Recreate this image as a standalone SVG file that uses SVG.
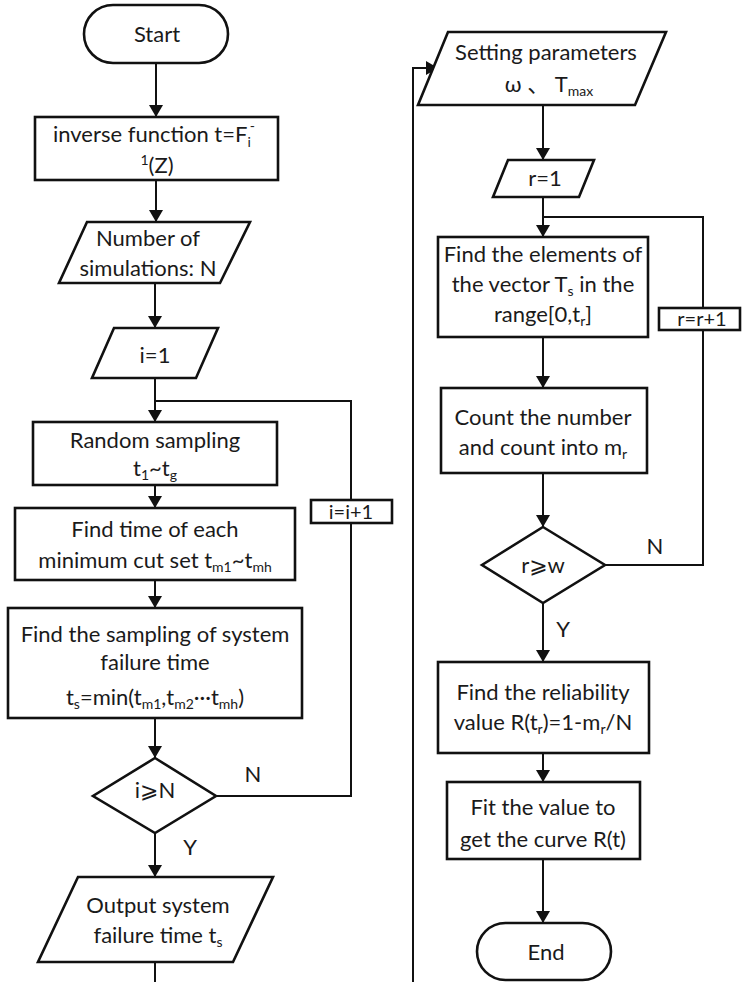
<svg xmlns="http://www.w3.org/2000/svg" width="743" height="982" viewBox="0 0 743 982">
<style>
.s{fill:#fff;stroke:#111;stroke-width:2.6}
.c{fill:none;stroke:#111;stroke-width:2}
text{font-family:Lato,"Open Sans","Noto Sans","DejaVu Sans","Noto Sans CJK SC",sans-serif;font-size:22px;fill:#1a1a1a;text-anchor:middle}
.sm{font-size:20px}
.sub{font-size:14px}
</style>
<defs>
<marker id="a" viewBox="0 0 12 14" refX="12" refY="7" markerWidth="12" markerHeight="14" markerUnits="userSpaceOnUse" orient="auto">
<path d="M0,0 L12,7 L0,14 Z" fill="#111"/>
</marker>
</defs>
<rect width="743" height="982" fill="#fff"/>
<g id="connectors">
<line class="c" x1="156" y1="63" x2="156" y2="117" marker-end="url(#a)"/>
<line class="c" x1="156" y1="180" x2="156" y2="222" marker-end="url(#a)"/>
<line class="c" x1="155" y1="283" x2="155" y2="328" marker-end="url(#a)"/>
<line class="c" x1="155" y1="378" x2="155" y2="422" marker-end="url(#a)"/>
<polyline class="c" points="216,796 351,796 351,401 155,401"/>
<line class="c" x1="155" y1="485" x2="155" y2="508" marker-end="url(#a)"/>
<line class="c" x1="155" y1="580" x2="155" y2="608" marker-end="url(#a)"/>
<line class="c" x1="155" y1="718" x2="155" y2="758" marker-end="url(#a)"/>
<line class="c" x1="155" y1="833" x2="155" y2="877" marker-end="url(#a)"/>
<line class="c" x1="155" y1="962" x2="155" y2="982"/>
<polyline class="c" points="413,982 413,68 438,68" marker-end="url(#a)"/>
<line class="c" x1="543" y1="105" x2="543" y2="160" marker-end="url(#a)"/>
<line class="c" x1="543" y1="197" x2="543" y2="237" marker-end="url(#a)"/>
<polyline class="c" points="605,565 703,565 703,217 543,217"/>
<line class="c" x1="543" y1="337" x2="543" y2="388" marker-end="url(#a)"/>
<line class="c" x1="543" y1="473" x2="543" y2="527" marker-end="url(#a)"/>
<line class="c" x1="543" y1="603" x2="543" y2="662" marker-end="url(#a)"/>
<line class="c" x1="543" y1="753" x2="543" y2="782" marker-end="url(#a)"/>
<line class="c" x1="543" y1="859" x2="543" y2="923" marker-end="url(#a)"/>
<text x="253" y="782">N</text>
<text x="190" y="855">Y</text>
<text x="655" y="554">N</text>
<text x="563" y="637">Y</text>
</g>
<g id="start"><rect class="s" x="84" y="5" width="144" height="58" rx="29"/><text x="157" y="42">Start</text></g>
<g id="inverse"><rect class="s" x="35" y="117" width="243" height="63"/>
<text x="154" y="142">inverse function t=F<tspan class="sub" dy="5">i</tspan><tspan class="sub" dx="-1" dy="-16">-</tspan></text>
<text x="157" y="173"><tspan class="sub" dy="-8">1</tspan><tspan dy="8">(Z)</tspan></text></g>
<g id="num"><polygon class="s" points="87,222 250,222 220,283 59,283"/>
<text x="148" y="246">Number of</text><text x="148" y="276">simulations: N</text></g>
<g id="i1"><polygon class="s" points="114,328 218,328 196,378 92,378"/><text x="155" y="363">i=1</text></g>
<g id="random"><rect class="s" x="33" y="422" width="244" height="63"/>
<text x="155" y="448">Random sampling</text>
<text x="155" y="476">t<tspan class="sub" dy="4">1</tspan><tspan dy="-4">~t</tspan><tspan class="sub" dy="4">g</tspan></text></g>
<g id="findtime"><rect class="s" x="15" y="508" width="280" height="72"/>
<text x="155" y="537">Find time of each</text>
<text x="155" y="568">minimum cut set t<tspan class="sub" dy="4">m1</tspan><tspan dy="-4">~t</tspan><tspan class="sub" dy="4">mh</tspan></text></g>
<g id="findsamp"><rect class="s" x="8" y="608" width="294" height="110"/>
<text x="155" y="642">Find the sampling of system</text>
<text x="155" y="670">failure time</text>
<text x="155" y="705">t<tspan class="sub" dy="4">s</tspan><tspan dy="-4">=min(t</tspan><tspan class="sub" dy="4">m1</tspan><tspan dy="-4">,t</tspan><tspan class="sub" dy="4">m2</tspan><tspan dy="-4">···t</tspan><tspan class="sub" dy="4">mh</tspan><tspan dy="-4">)</tspan></text></g>
<g id="iinc"><rect class="s" x="311" y="500" width="81" height="23" stroke-width="2.2"/><text class="sm" x="351" y="519">i=i+1</text></g>
<g id="dec1"><polygon class="s" points="155,758 216,796 155,833 93,796"/><text x="155" y="798">i⩾N</text></g>
<g id="output"><polygon class="s" points="78,877 273,877 233,962 38,962"/>
<text x="158" y="913">Output system</text>
<text x="158" y="943">failure time t<tspan class="sub" dy="4">s</tspan></text></g>
<g id="setting"><polygon class="s" points="448,32 666,32 635,105 418,105"/>
<text x="546" y="60">Setting parameters</text>
<text x="549" y="92">ω 、 T<tspan class="sub" dy="4">max</tspan></text></g>
<g id="r1"><polygon class="s" points="508,160 594,160 579,197 493,197"/><text x="545" y="186">r=1</text></g>
<g id="elements"><rect class="s" x="438" y="237" width="210" height="100"/>
<text x="543" y="262">Find the elements of</text>
<text x="543" y="292">the vector T<tspan class="sub" dy="4">s</tspan><tspan dy="-4"> in the</tspan></text>
<text x="543" y="322">range[0,t<tspan class="sub" dy="4">r</tspan><tspan dy="-4">]</tspan></text></g>
<g id="rinc"><rect class="s" x="659" y="308" width="81" height="22" stroke-width="2.2"/><text class="sm" x="702" y="326">r=r+1</text></g>
<g id="count"><rect class="s" x="441" y="388" width="206" height="85"/>
<text x="543" y="425">Count the number</text>
<text x="543" y="455">and count into m<tspan class="sub" dy="4">r</tspan></text></g>
<g id="dec2"><polygon class="s" points="543,527 605,565 543,603 482,565"/><text x="543" y="573">r⩾w</text></g>
<g id="reliab"><rect class="s" x="438" y="662" width="211" height="91"/>
<text x="543" y="700">Find the reliability</text>
<text x="543" y="730">value R(t<tspan class="sub" dy="4">r</tspan><tspan dy="-4">)=1-m</tspan><tspan class="sub" dy="4">r</tspan><tspan dy="-4">/N</tspan></text></g>
<g id="fit"><rect class="s" x="447" y="782" width="193" height="77"/>
<text x="543" y="815">Fit the value to</text>
<text x="543" y="847">get the curve R(t)</text></g>
<g id="end"><rect class="s" x="477" y="923" width="134" height="57" rx="28.5"/><text x="546" y="960">End</text></g>
</svg>
